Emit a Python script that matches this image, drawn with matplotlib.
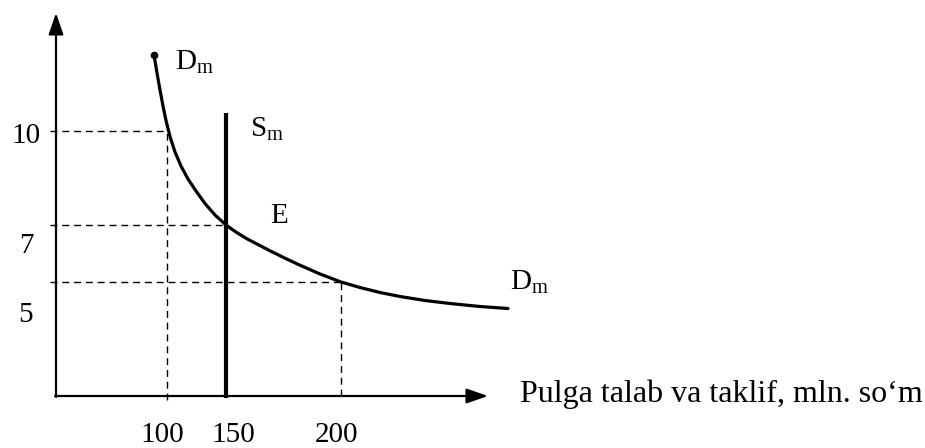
import numpy as np
import matplotlib.pyplot as plt

plt.rcParams['font.family'] = ['Liberation Serif', 'DejaVu Serif']
plt.rcParams['mathtext.fontset'] = 'custom'
plt.rcParams['mathtext.rm'] = 'Liberation Serif'
plt.rcParams['mathtext.it'] = 'Liberation Serif:italic'

# Schematic diagram units (origin at the axes corner, not to scale)
demand_x = [98, 101, 104, 107, 110, 114, 119, 125, 132, 140, 149, 159, 170,
            177, 184, 191, 199, 214, 229, 244, 264, 285, 304, 324, 344, 369,
            394, 424, 452]
demand_y = [341, 323, 306, 290, 275.5, 259.5, 244, 230, 217, 205, 192.5, 181,
            171, 166, 161.4, 157.2, 153, 145.2, 137.8, 130.8, 122, 114, 108.5,
            103.5, 99.5, 95.5, 92.5, 89.5, 87.5]

supply_x = 170
supply_top = 283

# guide levels: quantity positions and price positions
guide_q = [111, 170, 285]
guide_p = [265, 171, 114]

x_tick_labels = ['100', '150', '200']
x_tick_pos = [106, 177, 281]
y_tick_labels = ['10', '7', '5']
y_tick_pos = [260, 150, 81]

x_axis_end = 432
y_axis_end = 383

fig = plt.figure(figsize=(9.25, 4.48), dpi=100)
ax = fig.add_axes([0, 0, 1, 1])
ax.set_xlim(-56, 869)
ax.set_ylim(-52, 396)
ax.axis('off')

arrow = dict(arrowstyle='-|>,head_length=1.3,head_width=0.45', lw=1.6,
             color='black', shrinkA=0, shrinkB=0, mutation_scale=10)
ax.annotate('', xy=(0, y_axis_end), xytext=(0, -1), arrowprops=arrow)
ax.annotate('', xy=(x_axis_end, 0), xytext=(-1, 0), arrowprops=arrow)

dash = dict(color='black', lw=1.0, dashes=(5, 3.5))
# horizontal guides
for q, p in zip(guide_q, guide_p):
    ax.plot([-6, q], [p, p], **dash)
# vertical guides
ax.plot([guide_q[0], guide_q[0]], [-4, guide_p[0]], **dash)
ax.plot([guide_q[2], guide_q[2]], [0, guide_p[2]], **dash)

# supply line
ax.plot([supply_x, supply_x], [-2, supply_top], color='black', lw=3.0,
        solid_capstyle='butt')

# demand curve
ax.plot(demand_x, demand_y, color='black', lw=2.3, solid_capstyle='round',
        solid_joinstyle='round')
ax.plot(demand_x[0], demand_y[0], 'o', color='black', ms=4.5)

fs = 21
ax.text(119, 326, r'$\mathrm{D_m}$', fontsize=fs, ha='left', va='baseline')
ax.text(194, 259, r'$\mathrm{S_m}$', fontsize=fs, ha='left', va='baseline')
ax.text(214, 173, 'E', fontsize=fs, ha='left', va='baseline')
ax.text(454, 106, r'$\mathrm{D_m}$', fontsize=fs, ha='left', va='baseline')
ax.text(464, -6, 'Pulga talab va taklif, mln. so\u2018m', fontsize=23,
        ha='left', va='baseline')

for lab, pos in zip(x_tick_labels, x_tick_pos):
    ax.text(pos, -39, lab, fontsize=fs, ha='center', va='center')
for lab, pos in zip(y_tick_labels, y_tick_pos):
    ax.text(-30, pos, lab, fontsize=fs, ha='center', va='center')

fig.savefig('out.png', dpi=100, facecolor='white')
